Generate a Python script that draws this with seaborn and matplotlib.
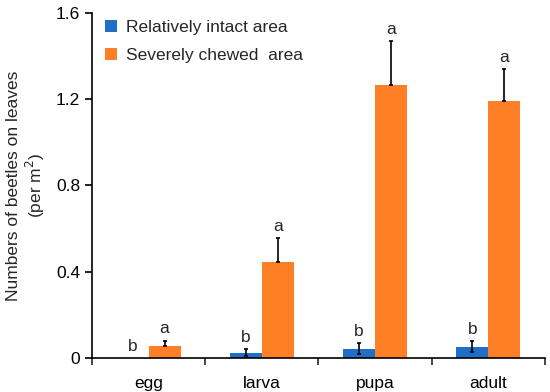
import pandas as pd
import matplotlib.pyplot as plt
import seaborn as sns

# data
stages = ['egg', 'larva', 'pupa', 'adult']
intact_mean = [0.0, 0.025, 0.042, 0.052]
intact_err = [0.0, 0.016, 0.026, 0.025]
chewed_mean = [0.057, 0.444, 1.266, 1.193]
chewed_err = [0.023, 0.112, 0.205, 0.147]
intact_letters = ['b', 'b', 'b', 'b']
chewed_letters = ['a', 'a', 'a', 'a']
areas = ['Relatively intact area', 'Severely chewed  area']
colors = ['#1F6EC8', '#FF7F27']
yticks = [0, 0.4, 0.8, 1.2, 1.6]
ytick_labels = ['0', '0.4', '0.8', '1.2', '1.6']

df = pd.DataFrame({
    'stage': stages * 2,
    'area': [areas[0]] * 4 + [areas[1]] * 4,
    'value': intact_mean + chewed_mean,
})

sns.set_style('ticks')
plt.rcParams['font.family'] = ['Liberation Sans', 'DejaVu Sans']
plt.rcParams['font.size'] = 12

fig = plt.figure(figsize=(5.5, 3.92), dpi=100)
ax = fig.add_axes([0.167, 0.087, 0.824, 0.88])

sns.barplot(data=df, x='stage', y='value', hue='area', palette=colors,
            width=0.566, errorbar=None, ax=ax, saturation=1, linewidth=0)

# error bars and letters on top of each bar
bar_groups = list(ax.containers)
errs = [intact_err, chewed_err]
letters = [intact_letters, chewed_letters]
for k, cont in enumerate(bar_groups):
    for i, bar in enumerate(cont):
        xc = bar.get_x() + bar.get_width() / 2
        h = bar.get_height()
        e = errs[k][i]
        if e > 0:
            lower = e if k == 0 else 0
            ax.errorbar(xc, h, yerr=[[lower], [e]], fmt='none', ecolor='black',
                        elinewidth=1.2, capsize=1.5, capthick=1.2)
        ax.annotate(letters[k][i], (xc, h + e), xytext=(0, 3),
                    textcoords='offset points', ha='center', va='bottom',
                    fontsize=12.5)

ax.set_ylim(0, 1.6)
ax.set_xlim(-0.5, 3.5)
ax.set_yticks(yticks)
ax.set_yticklabels(ytick_labels)
ax.set_xticks([0, 1, 2, 3])
ax.set_xticklabels(stages)
ax.set_xticks([-0.5, 0.5, 1.5, 2.5, 3.5], minor=True)
ax.tick_params(axis='x', which='major', length=0, pad=13)
ax.tick_params(axis='x', which='minor', length=5, width=1.2, direction='out')
ax.tick_params(axis='y', length=5, width=1.2, direction='out')
ax.tick_params(labelsize=12.5, colors='black')
ax.set_xlabel('')
ax.set_ylabel('Numbers of beetles on leaves\n(per m$^2$)', fontsize=12.5, labelpad=6)
for s in ['left', 'bottom']:
    ax.spines[s].set_linewidth(1.2)
    ax.spines[s].set_color('black')
sns.despine(ax=ax)

ax.legend(loc='upper left', bbox_to_anchor=(-0.005, 1.025), frameon=False,
          handlelength=0.7, handleheight=0.7, handletextpad=0.5,
          labelspacing=0.75, fontsize=12.5)

fig.savefig('out.png', dpi=100)
